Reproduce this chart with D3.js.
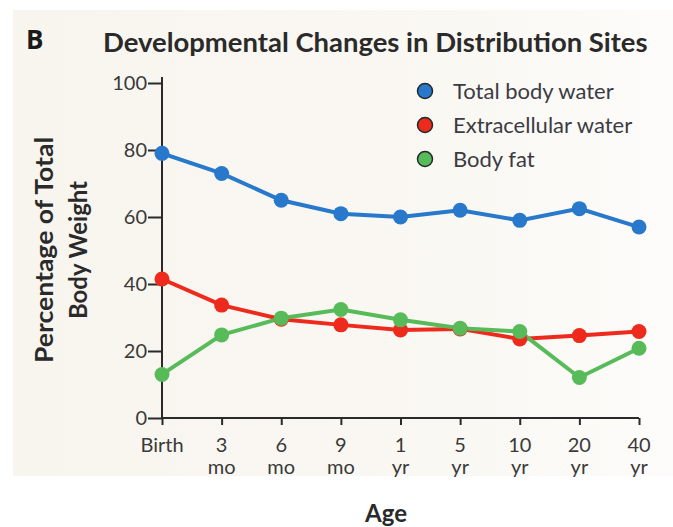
<!DOCTYPE html>
<html lang="en">
<head>
<meta charset="UTF-8">
<title>Developmental Changes in Distribution Sites</title>
<script src="https://d3js.org/d3.v7.min.js"></script>
<style>
  body { margin: 0; background: #fff; }
  text { font-family: Lato, "Open Sans", sans-serif; }
</style>
</head>
<body>
<div id="chart"></div>
<script>
var ages = ["Birth", "3 mo", "6 mo", "9 mo", "1 yr", "5 yr", "10 yr", "20 yr", "40 yr"];
var totalWater = [79, 73, 65, 61, 60, 62, 59, 62.5, 57];
var extraWater = [41.5, 33.7, 29.5, 27.8, 26.3, 26.6, 23.6, 24.6, 25.8];
var bodyFat = [13, 24.8, 29.8, 32.4, 29.3, 26.8, 25.8, 12.1, 20.8];
var yTicks = [0, 20, 40, 60, 80, 100];

var series = [
  { name: "Total body water", values: totalWater, color: "#2878cc" },
  { name: "Extracellular water", values: extraWater, color: "#ee2a1c" },
  { name: "Body fat", values: bodyFat, color: "#58bb5a" }
];

var width = 673, height = 527;
var mLeft = 162, mRight = 639, mTop = 83, mBottom = 418;

var svg = d3.select("#chart").append("svg")
    .attr("width", width)
    .attr("height", height);

// paper background
var grad = svg.append("defs").append("linearGradient")
    .attr("id", "paper").attr("x1", 0).attr("x2", 1).attr("y1", 0).attr("y2", 0);
grad.append("stop").attr("offset", "0%").attr("stop-color", "#f8f5ef");
grad.append("stop").attr("offset", "70%").attr("stop-color", "#faf8f3");
grad.append("stop").attr("offset", "100%").attr("stop-color", "#fdfcfa");
svg.append("rect")
    .attr("x", 13).attr("y", 10)
    .attr("width", width - 13).attr("height", 466)
    .attr("fill", "url(#paper)");

var x = d3.scalePoint().domain(ages).range([mLeft, mRight]);
var y = d3.scaleLinear().domain([0, 100]).range([mBottom, mTop]);

// axes
var yAxis = svg.append("g")
    .attr("transform", "translate(" + mLeft + ",0)")
    .call(d3.axisLeft(y).tickValues(yTicks).tickSize(14).tickPadding(1));
var xAxis = svg.append("g")
    .attr("transform", "translate(0," + mBottom + ")")
    .call(d3.axisBottom(x).tickSize(7).tickFormat(""));

[yAxis, xAxis].forEach(function(g) {
  g.select(".domain").attr("stroke", "#2a2a2a").attr("stroke-width", 2);
  g.selectAll(".tick line").attr("stroke", "#2a2a2a").attr("stroke-width", 2);
});
xAxis.select(".domain").attr("d", "M" + mLeft + ",0H" + mRight);
yAxis.select(".domain").attr("d", "M0," + mBottom + "V" + (mTop - 6));
yAxis.selectAll(".tick text")
    .attr("font-size", 20).attr("fill", "#3a3a3a")
    .style("font-family", "Lato, sans-serif");

// two-line x tick labels
ages.forEach(function(a) {
  var parts = a.split(" ");
  var t = svg.append("text")
      .attr("x", x(a))
      .attr("y", mBottom + 34)
      .attr("text-anchor", "middle")
      .attr("font-size", 20)
      .attr("fill", "#3a3a3a");
  t.append("tspan").attr("x", x(a)).text(parts[0]);
  if (parts[1]) t.append("tspan").attr("x", x(a)).attr("dy", 22).text(parts[1]);
});

// lines and markers
var line = d3.line()
    .x(function(d, i) { return x(ages[i]); })
    .y(function(d) { return y(d); });

series.forEach(function(s) {
  svg.append("path")
      .datum(s.values)
      .attr("d", line)
      .attr("fill", "none")
      .attr("stroke", s.color)
      .attr("stroke-width", 4);
});
series.forEach(function(s) {
  svg.selectAll(null)
      .data(s.values)
      .enter().append("circle")
      .attr("cx", function(d, i) { return x(ages[i]); })
      .attr("cy", function(d) { return y(d); })
      .attr("r", 7.5)
      .attr("fill", s.color);
});

// legend
var legend = svg.append("g").attr("transform", "translate(425,91)");
series.forEach(function(s, i) {
  var row = legend.append("g").attr("transform", "translate(0," + (i * 34) + ")");
  row.append("circle").attr("r", 7.5)
      .attr("fill", s.color).attr("stroke", "#1f2a2a").attr("stroke-width", 1.5);
  row.append("text").attr("x", 28).attr("y", 8)
      .attr("font-size", 22).attr("fill", "#3b3b44")
      .text(s.name);
});

// titles
svg.append("text").attr("x", 26).attr("y", 49)
    .attr("font-size", 26).attr("font-weight", "bold").attr("fill", "#1a1a1a")
    .style("font-family", "'Open Sans', sans-serif")
    .text("B");

var title = svg.append("text").attr("x", 103).attr("y", 52)
    .attr("font-size", 24).attr("font-weight", "bold").attr("fill", "#2a2a2a")
    .text("Developmental Changes in Distribution Sites");
var tw = title.node().getComputedTextLength();
title.attr("font-size", 24 * 545 / tw);

var yl = svg.append("text")
    .attr("transform", "translate(53,250) rotate(-90)")
    .attr("text-anchor", "middle")
    .attr("font-size", 24).attr("font-weight", "bold").attr("fill", "#2a2a2a");
yl.append("tspan").attr("x", 0).attr("y", 0)
    .attr("textLength", 226).attr("lengthAdjust", "spacingAndGlyphs")
    .text("Percentage of Total");
yl.append("tspan").attr("x", 0).attr("y", 34)
    .attr("textLength", 138).attr("lengthAdjust", "spacingAndGlyphs")
    .text("Body Weight");

svg.append("text").attr("x", 386).attr("y", 522)
    .attr("text-anchor", "middle")
    .attr("font-size", 24).attr("font-weight", "bold").attr("fill", "#2a2a2a")
    .text("Age");
</script>
</body>
</html>
